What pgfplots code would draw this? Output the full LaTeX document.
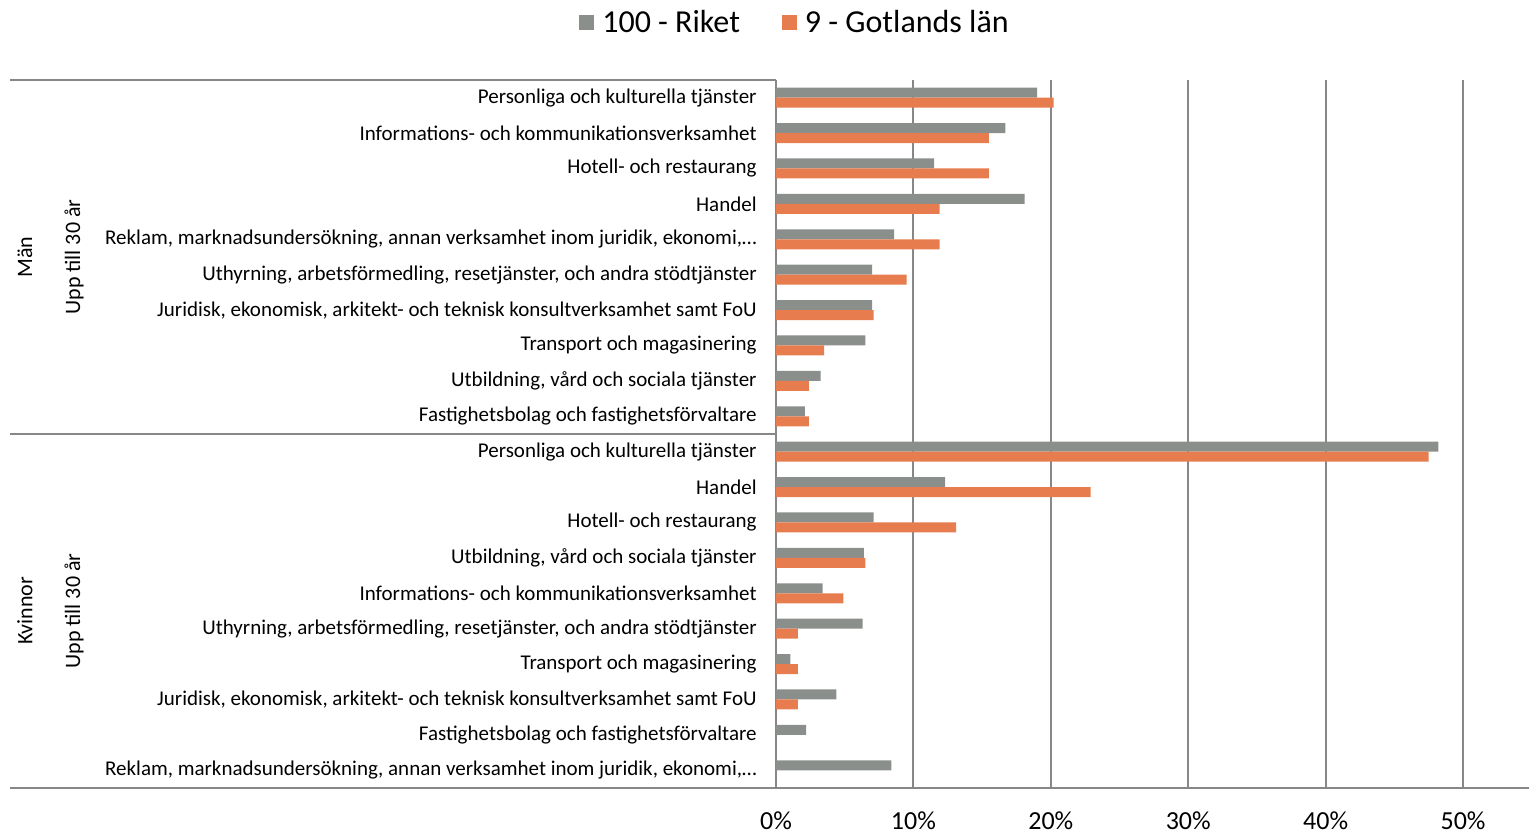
\documentclass[border=0pt]{standalone}
\usepackage{fontspec}
\setmainfont{Carlito}
\usepackage{pgfplots}
\pgfplotsset{compat=1.18}
\definecolor{riket}{HTML}{8B8F8C}
\definecolor{gotland}{HTML}{E77C4F}
\definecolor{linegray}{HTML}{878787}

\begin{document}
\begin{tikzpicture}
\path[use as bounding box] (0,0) rectangle (764.5pt,417pt);
\begin{axis}[
    at={(388pt,23pt)}, anchor=south west,
    scale only axis,
    width=376.5pt, height=354pt,
    xbar, bar width=5pt,
    xmin=0, xmax=54.8,
    ymin=-0.5, ymax=19.5,
    xtick={0,10,20,30,40,50},
    xticklabels={0\%,10\%,20\%,30\%,40\%,50\%},
    xticklabel style={font=\fontsize{13}{15}\selectfont, anchor=center, yshift=-16.5pt, inner sep=0pt},
    ytick={0,...,19},
    yticklabels={
        {Reklam, marknadsundersökning, annan verksamhet inom juridik, ekonomi,…},
        Fastighetsbolag och fastighetsförvaltare,
        {Juridisk, ekonomisk, arkitekt- och teknisk konsultverksamhet samt FoU},
        Transport och magasinering,
        {Uthyrning, arbetsförmedling, resetjänster, och andra stödtjänster},
        Informations- och kommunikationsverksamhet,
        {Utbildning, vård och sociala tjänster},
        Hotell- och restaurang,
        Handel,
        Personliga och kulturella tjänster,
        Fastighetsbolag och fastighetsförvaltare,
        {Utbildning, vård och sociala tjänster},
        Transport och magasinering,
        {Juridisk, ekonomisk, arkitekt- och teknisk konsultverksamhet samt FoU},
        {Uthyrning, arbetsförmedling, resetjänster, och andra stödtjänster},
        {Reklam, marknadsundersökning, annan verksamhet inom juridik, ekonomi,…},
        Handel,
        Hotell- och restaurang,
        Informations- och kommunikationsverksamhet,
        Personliga och kulturella tjänster},
    yticklabel style={font=\fontsize{10.5}{12}\selectfont, anchor=east, inner sep=0pt, xshift=-9.5pt},
    major tick length=0pt,
    xmajorgrids,
    grid style={linegray, line width=1pt},
    axis x line*=bottom, axis y line*=left,
    axis line style={linegray, line width=1pt},
    clip=false,
    legend columns=2,
    legend style={draw=none, fill=none, at={(axis description cs:0.0266,1.0805)}, anchor=center,
        font=\fontsize{16}{19}\selectfont,
        /tikz/every even column/.append style={column sep=19pt}},
    legend image code/.code={\fill[#1] (0pt,-3.75pt) rectangle (7.5pt,3.75pt); \path (9.5pt,0pt);},
]
% 100 - Riket
\addplot[fill=riket, draw=none, bar shift=2.5pt] coordinates {
    (8.4,0) (2.2,1) (4.4,2) (1.05,3) (6.3,4) (3.4,5) (6.4,6) (7.1,7) (12.3,8) (48.2,9)
    (2.1,10) (3.25,11) (6.5,12) (7.0,13) (7.0,14) (8.6,15) (18.1,16) (11.5,17) (16.7,18) (19.0,19)
};
\addlegendentry{100 - Riket}
% 9 - Gotlands län
\addplot[fill=gotland, draw=none, bar shift=-2.5pt] coordinates {
    (1.6,2) (1.6,3) (1.6,4) (4.9,5) (6.5,6) (13.1,7) (22.9,8) (47.5,9)
    (2.4,10) (2.4,11) (3.5,12) (7.1,13) (9.5,14) (11.9,15) (11.9,16) (15.5,17) (15.5,18) (20.2,19)
};
\addlegendentry{9 - Gotlands län}

% group separators reaching into the label area
\draw[linegray, line width=1pt] (axis cs:0,19.5) -- ([xshift=-383pt]axis cs:0,19.5);
\draw[linegray, line width=1pt] (axis cs:0,9.5) -- ([xshift=-383pt]axis cs:0,9.5);
\draw[linegray, line width=1pt] (axis cs:0,-0.5) -- ([xshift=-383pt]axis cs:0,-0.5);

\node[rotate=90, font=\fontsize{11}{13}\selectfont] at ([xshift=-375.5pt]axis cs:0,14.5) {Män};
\node[rotate=90, font=\fontsize{11}{13}\selectfont] at ([xshift=-351pt]axis cs:0,14.5) {Upp till 30 år};
\node[rotate=90, font=\fontsize{11}{13}\selectfont] at ([xshift=-375.5pt]axis cs:0,4.5) {Kvinnor};
\node[rotate=90, font=\fontsize{11}{13}\selectfont] at ([xshift=-351pt]axis cs:0,4.5) {Upp till 30 år};
\end{axis}
\end{tikzpicture}
\end{document}
